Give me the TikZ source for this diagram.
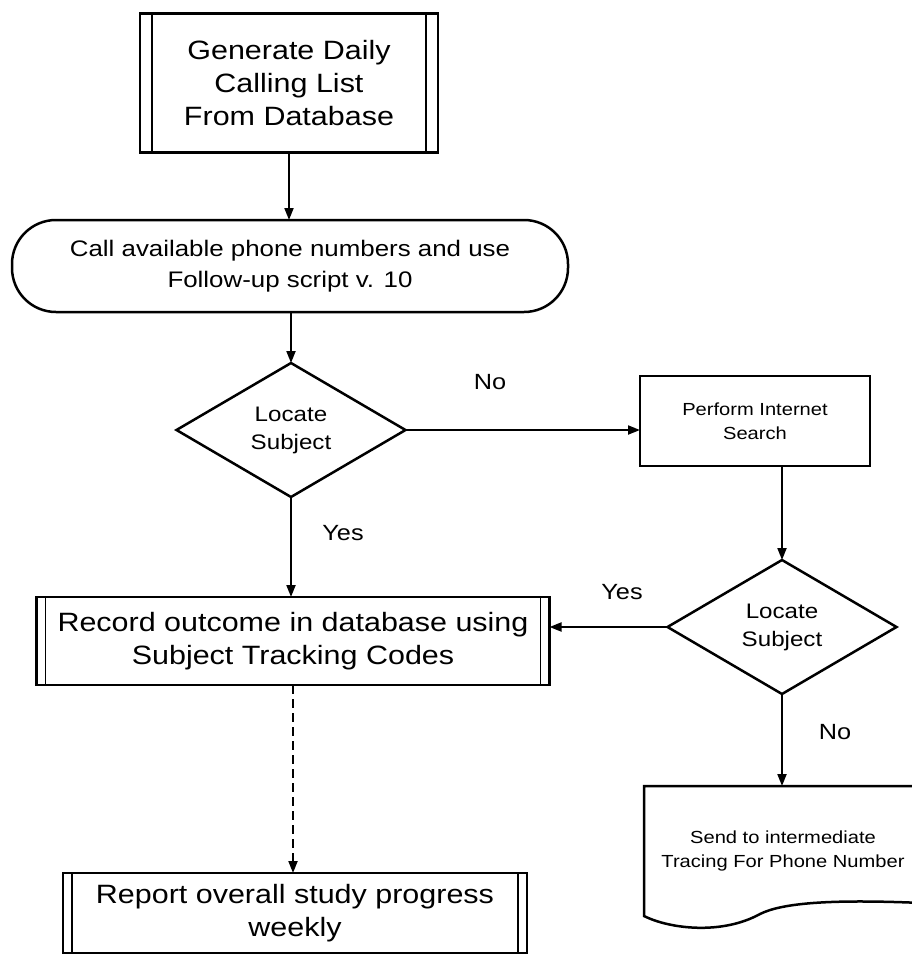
\documentclass[tikz,border=0pt]{standalone}
\usepackage{fontspec}
\setmainfont[FakeStretch=1.15]{Liberation Sans}
\usetikzlibrary{arrows.meta,shapes.geometric,calc}
\tikzset{
  every node/.style={inner sep=0pt, outer sep=0pt},
  box/.style={draw, line width=2.5pt, rectangle, align=center},
  predef/.style={box, path picture={
      \draw[line width=1.8pt] ([xshift=#1]path picture bounding box.north west) -- ([xshift=#1]path picture bounding box.south west);
      \draw[line width=1.8pt] ([xshift=-#1]path picture bounding box.north east) -- ([xshift=-#1]path picture bounding box.south east);}},
  predef/.default=9pt,
  big/.style={font={\fontsize{26.5pt}{33pt}\selectfont}},
  mid/.style={font={\fontsize{22.5pt}{31pt}\selectfont}},
  dec/.style={font={\fontsize{21pt}{28pt}\selectfont}},
  small/.style={font={\fontsize{17.5pt}{24.5pt}\selectfont}},
  terminal/.style={draw, line width=2.5pt, rectangle, rounded corners=44pt, align=center, minimum width=556pt, minimum height=92pt, mid},
  decision/.style={draw, line width=2.5pt, diamond, align=center, minimum width=229pt, minimum height=134pt, dec},
  lbl/.style={font={\fontsize{22pt}{26pt}\selectfont}},
  arr/.style={line width=2pt, -{Triangle[length=12pt,width=9pt]}},
  dashline/.style={dash pattern=on 9pt off 5pt}
}
\begin{document}
\begin{tikzpicture}[x=1pt, y=-1pt]
\useasboundingbox (0,0) rectangle (912,958);

\node[predef=12pt, minimum width=298pt, minimum height=139pt, big] (gen) at (289,83) {Generate Daily\\Calling List\\From Database};
\node[terminal] (call) at (290,266) {Call available phone numbers and use\\Follow-up script v. 10};
\node[decision] (d1) at (291,430) {Locate\\Subject};
\node[box, minimum width=230pt, minimum height=90pt, small] (search) at (755,421) {Perform Internet\\Search};
\node[decision] (d2) at (782,627) {Locate\\Subject};
\node[predef, minimum width=513pt, minimum height=88pt, big] (record) at (293,641) {Record outcome in database using\\Subject Tracking Codes};
\node[minimum width=278pt, minimum height=130pt, align=center, small] (doc) at (783,851) {Send to intermediate\\Tracing For Phone Number};
\draw[line width=2.5pt] (doc.north east) -- (doc.north west) -- (doc.south west)
  .. controls (670,929) and (722,935) .. (760,914)
  .. controls (782,903) and (830,899) .. (doc.east |- 0,903);
\node[predef, minimum width=464pt, minimum height=80pt, big] (report) at (295,913) {Report overall study progress\\weekly};

\draw[arr] (gen.south) -- (gen.south |- call.north);
\draw[arr] (d1.north |- call.south) -- (d1.north);
\draw[arr] (d1.east) -- (d1.east -| search.west);
\draw[arr] (d2.north |- search.south) -- (d2.north);
\draw[arr] (d1.south) -- (d1.south |- record.north);
\draw[arr] (d2.west) -- (d2.west -| record.east);
\draw[arr] (d2.south) -- (d2.south |- doc.north);
\draw[arr, dashline] (record.south) -- (record.south |- report.north);

\node[lbl] (no1) at (490,382) {No};
\node[lbl] (yes1) at (343,533) {Yes};
\node[lbl] (yes2) at (622,592) {Yes};
\node[lbl] (no2) at (835,732) {No};
\end{tikzpicture}
\end{document}
